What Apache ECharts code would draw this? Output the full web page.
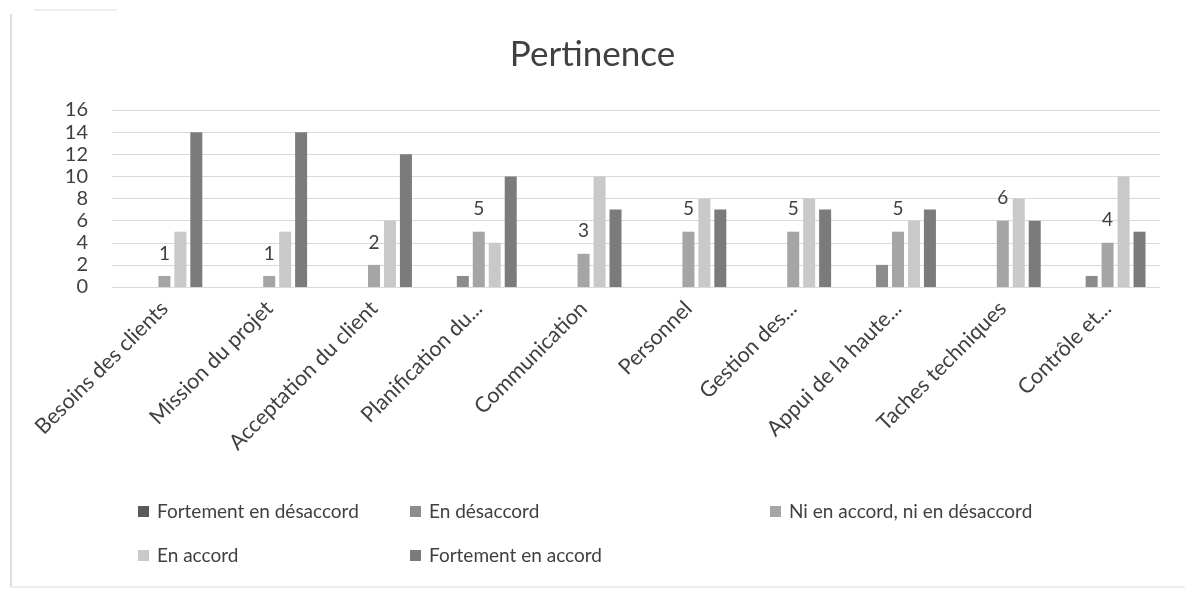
<!DOCTYPE html>
<html>
<head>
<meta charset="utf-8">
<script src="https://cdn.jsdelivr.net/npm/echarts@6/dist/echarts.min.js"></script>
<style>
html,body{margin:0;padding:0;background:#fff;}
#chart{width:1185px;height:589px;}
</style>
</head>
<body>
<div id="chart"></div>
<script>
const categories = ["Besoins des clients","Mission du projet","Acceptation du client","Planification du...","Communication","Personnel","Gestion des...","Appui de la haute...","Taches techniques","Contrôle et..."];
const seriesNames = ["Fortement en désaccord","En désaccord","Ni en accord, ni en désaccord","En accord","Fortement en accord"];
const fortementDesaccord = [0,0,0,0,0,0,0,0,0,0];
const enDesaccord = [0,0,0,1,0,0,0,2,0,1];
const niNi = [1,1,2,5,3,5,5,5,6,4];
const enAccord = [5,5,6,4,10,8,8,6,8,10];
const fortementAccord = [14,14,12,10,7,7,7,7,6,5];
const yTicks = {min:0, max:16, interval:2};

const colors = ["#5a5a5a","#8c8c8c","#a5a5a5","#c9c9c9","#7b7b7b"];
const dataSets = [fortementDesaccord, enDesaccord, niNi, enAccord, fortementAccord];
const FONT = "Lato";
const txt = "#404040";

const series = dataSets.map((d,i)=>({
  name: seriesNames[i],
  type: 'bar',
  data: d,
  barWidth: 12,
  barGap: '33%',
  itemStyle: {color: colors[i]},
  label: i===2 ? {show:true, position:'top', distance:13, fontSize:19, color:txt, fontFamily:FONT} : {show:false},
  emphasis: {disabled:true}
}));

const legendPos = [
  {left:133, top:497},
  {left:405, top:497},
  {left:765, top:497},
  {left:133, top:541},
  {left:405, top:541}
];
const legends = seriesNames.map((n,i)=>({
  data:[n], left:legendPos[i].left, top:legendPos[i].top,
  icon:'rect', itemWidth:11, itemHeight:11,
  textStyle:{fontSize:19, color:txt, fontFamily:FONT, padding:[0,0,0,3]},
  selectedMode:false
}));

const chart = echarts.init(document.getElementById('chart'));
chart.setOption({
  animation:false,
  color: colors,
  title:{text:'Pertinence', left:'center', top:32, textStyle:{fontSize:35, fontWeight:'normal', color:'#404040', fontFamily:FONT}},
  legend: legends,
  grid:{left:112, right:25, top:110, bottom:302, containLabel:false},
  xAxis:{
    type:'category', data:categories,
    axisLine:{show:true, lineStyle:{color:'#d9d9d9'}},
    axisTick:{show:false},
    axisLabel:{rotate:45, fontSize:21.5, color:txt, fontFamily:FONT, margin:18, interval:0}
  },
  yAxis:{
    type:'value', min:yTicks.min, max:yTicks.max, interval:yTicks.interval,
    axisLine:{show:false}, axisTick:{show:false},
    axisLabel:{fontSize:20, color:txt, fontFamily:FONT, margin:24},
    splitLine:{lineStyle:{color:'#d9d9d9'}}
  },
  series: series,
  graphic:[
    {type:'line', shape:{x1:11,y1:14,x2:11,y2:587}, style:{stroke:'#dedede', lineWidth:2}, silent:true},
    {type:'line', shape:{x1:11,y1:587,x2:1185,y2:587}, style:{stroke:'#ececec', lineWidth:2}, silent:true},
    {type:'line', shape:{x1:34,y1:10,x2:117,y2:10}, style:{stroke:'#eeeeee', lineWidth:2}, silent:true}
  ]
});
</script>
</body>
</html>
